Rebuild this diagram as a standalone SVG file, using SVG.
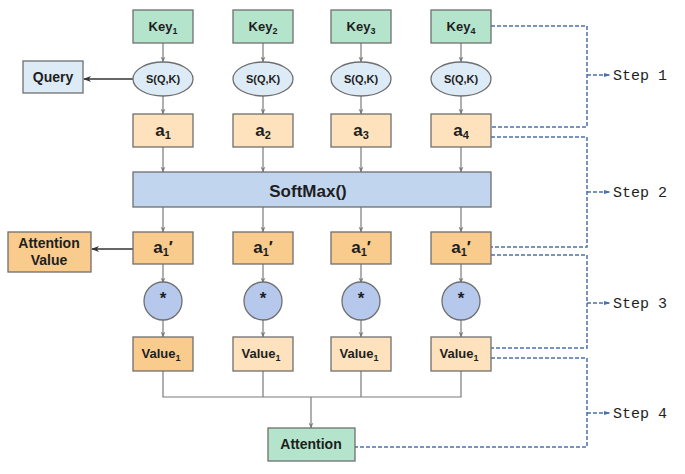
<svg xmlns="http://www.w3.org/2000/svg" width="685" height="474" viewBox="0 0 685 474">
<defs>
<marker id="ag" viewBox="0 0 10 10" refX="9" refY="5" markerWidth="6" markerHeight="6" orient="auto" markerUnits="userSpaceOnUse"><path d="M0,1 L10,5 L0,9 L3,5 Z" fill="#7a7a7a"/></marker>
<marker id="ak" viewBox="0 0 10 10" refX="9" refY="5" markerWidth="8" markerHeight="8" orient="auto" markerUnits="userSpaceOnUse"><path d="M0,1 L10,5 L0,9 L3,5 Z" fill="#333"/></marker>
<marker id="ab" viewBox="0 0 10 10" refX="9" refY="5" markerWidth="7" markerHeight="7" orient="auto" markerUnits="userSpaceOnUse"><path d="M0,2 L10,5 L0,8 Z" fill="#4a72aa"/></marker>
</defs>
<style>
.box{stroke:#6f6f6f;stroke-width:1.3}
.key{fill:#b5e4cd}
.qry{fill:#dcebf6}
.a{fill:#fde2bd}
.ap{fill:#f9cb8d}
.sm{fill:#c2d5ef}
.cir{fill:#b6c9ec}
.t{font-family:"Liberation Sans",Arial,sans-serif;font-weight:bold;fill:#1e1e1e;text-anchor:middle}
.c{stroke:#7a7a7a;stroke-width:1.2;fill:none}
.ck{stroke:#333;stroke-width:1.6;fill:none}
.d{stroke:#4a72aa;stroke-width:1.5;fill:none;stroke-dasharray:4,2}
.st{font-family:"Liberation Mono","DejaVu Sans Mono",monospace;font-size:15px;fill:#1e1e1e}
</style>
<rect width="685" height="474" fill="#fff"/>

<g id="connectors">
<line class="c" x1="163" y1="43" x2="163" y2="62" marker-end="url(#ag)"/>
<line class="c" x1="263" y1="43" x2="263" y2="62" marker-end="url(#ag)"/>
<line class="c" x1="361" y1="43" x2="361" y2="62" marker-end="url(#ag)"/>
<line class="c" x1="461" y1="43" x2="461" y2="62" marker-end="url(#ag)"/>
<line class="c" x1="163" y1="96" x2="163" y2="114" marker-end="url(#ag)"/>
<line class="c" x1="263" y1="96" x2="263" y2="114" marker-end="url(#ag)"/>
<line class="c" x1="361" y1="96" x2="361" y2="114" marker-end="url(#ag)"/>
<line class="c" x1="461" y1="96" x2="461" y2="114" marker-end="url(#ag)"/>
<line class="c" x1="163" y1="147" x2="163" y2="172" marker-end="url(#ag)"/>
<line class="c" x1="263" y1="147" x2="263" y2="172" marker-end="url(#ag)"/>
<line class="c" x1="361" y1="147" x2="361" y2="172" marker-end="url(#ag)"/>
<line class="c" x1="461" y1="147" x2="461" y2="172" marker-end="url(#ag)"/>
<line class="c" x1="163" y1="207" x2="163" y2="232" marker-end="url(#ag)"/>
<line class="c" x1="263" y1="207" x2="263" y2="232" marker-end="url(#ag)"/>
<line class="c" x1="361" y1="207" x2="361" y2="232" marker-end="url(#ag)"/>
<line class="c" x1="461" y1="207" x2="461" y2="232" marker-end="url(#ag)"/>
<line class="c" x1="163" y1="264" x2="163" y2="283" marker-end="url(#ag)"/>
<line class="c" x1="263" y1="264" x2="263" y2="283" marker-end="url(#ag)"/>
<line class="c" x1="361" y1="264" x2="361" y2="283" marker-end="url(#ag)"/>
<line class="c" x1="461" y1="264" x2="461" y2="283" marker-end="url(#ag)"/>
<line class="c" x1="163" y1="320" x2="163" y2="337" marker-end="url(#ag)"/>
<line class="c" x1="263" y1="320" x2="263" y2="337" marker-end="url(#ag)"/>
<line class="c" x1="361" y1="320" x2="361" y2="337" marker-end="url(#ag)"/>
<line class="c" x1="461" y1="320" x2="461" y2="337" marker-end="url(#ag)"/>
<path class="c" d="M163,371 V397 H461 V371 M263,371 V397 M361,371 V397"/>
<line class="c" x1="311" y1="397" x2="311" y2="428" marker-end="url(#ag)"/>
<line class="ck" x1="133" y1="79" x2="84" y2="79" marker-end="url(#ak)"/>
<line class="ck" x1="133" y1="249" x2="92" y2="249" marker-end="url(#ak)"/>
<path class="d" d="M491,26 H587 V127 H491"/>
<path class="d" d="M491,137 H587 V247 H491"/>
<path class="d" d="M491,255 H587 V348 H491"/>
<path class="d" d="M491,358 H587 V447 H355"/>
<line class="d" x1="587" y1="75" x2="610" y2="75" marker-end="url(#ab)"/>
<line class="d" x1="587" y1="192" x2="610" y2="192" marker-end="url(#ab)"/>
<line class="d" x1="587" y1="303" x2="610" y2="303" marker-end="url(#ab)"/>
<line class="d" x1="587" y1="413" x2="610" y2="413" marker-end="url(#ab)"/>
</g>

<g id="key1"><rect class="box key" x="133" y="10" width="60" height="33"/><text class="t" x="163" y="31" font-size="13">Key<tspan font-size="9" dy="3">1</tspan></text></g>
<g id="key2"><rect class="box key" x="233" y="10" width="60" height="33"/><text class="t" x="263" y="31" font-size="13">Key<tspan font-size="9" dy="3">2</tspan></text></g>
<g id="key3"><rect class="box key" x="331" y="10" width="60" height="33"/><text class="t" x="361" y="31" font-size="13">Key<tspan font-size="9" dy="3">3</tspan></text></g>
<g id="key4"><rect class="box key" x="431" y="10" width="60" height="33"/><text class="t" x="461" y="31" font-size="13">Key<tspan font-size="9" dy="3">4</tspan></text></g>

<g id="query"><rect class="box qry" x="23" y="61" width="60" height="32"/><text class="t" x="53" y="82" font-size="14">Query</text></g>

<g id="s1"><ellipse class="box qry" cx="163" cy="79" rx="30" ry="17"/><text class="t" x="163" y="83" font-size="11">S(Q,K)</text></g>
<g id="s2"><ellipse class="box qry" cx="263" cy="79" rx="30" ry="17"/><text class="t" x="263" y="83" font-size="11">S(Q,K)</text></g>
<g id="s3"><ellipse class="box qry" cx="361" cy="79" rx="30" ry="17"/><text class="t" x="361" y="83" font-size="11">S(Q,K)</text></g>
<g id="s4"><ellipse class="box qry" cx="461" cy="79" rx="30" ry="17"/><text class="t" x="461" y="83" font-size="11">S(Q,K)</text></g>

<g id="a1"><rect class="box a" x="133" y="114" width="60" height="33"/><text class="t" x="163" y="136" font-size="17">a<tspan font-size="11" dy="3">1</tspan></text></g>
<g id="a2"><rect class="box a" x="233" y="114" width="60" height="33"/><text class="t" x="263" y="136" font-size="17">a<tspan font-size="11" dy="3">2</tspan></text></g>
<g id="a3"><rect class="box a" x="331" y="114" width="60" height="33"/><text class="t" x="361" y="136" font-size="17">a<tspan font-size="11" dy="3">3</tspan></text></g>
<g id="a4"><rect class="box a" x="431" y="114" width="60" height="33"/><text class="t" x="461" y="136" font-size="17">a<tspan font-size="11" dy="3">4</tspan></text></g>

<g id="softmax"><rect class="box sm" x="133" y="172" width="358" height="35"/><text class="t" x="308" y="197" font-size="17">SoftMax()</text></g>

<g id="attval"><rect class="box ap" x="8" y="232" width="83" height="40"/><text class="t" x="49" y="248" font-size="14">Attention</text><text class="t" x="49" y="265" font-size="14">Value</text></g>

<g id="ap1"><rect class="box ap" x="133" y="232" width="60" height="32"/><text class="t" x="163" y="253" font-size="17">a<tspan font-size="11" dy="3">1</tspan><tspan dy="-3">′</tspan></text></g>
<g id="ap2"><rect class="box ap" x="233" y="232" width="60" height="32"/><text class="t" x="263" y="253" font-size="17">a<tspan font-size="11" dy="3">1</tspan><tspan dy="-3">′</tspan></text></g>
<g id="ap3"><rect class="box ap" x="331" y="232" width="60" height="32"/><text class="t" x="361" y="253" font-size="17">a<tspan font-size="11" dy="3">1</tspan><tspan dy="-3">′</tspan></text></g>
<g id="ap4"><rect class="box ap" x="431" y="232" width="60" height="32"/><text class="t" x="461" y="253" font-size="17">a<tspan font-size="11" dy="3">1</tspan><tspan dy="-3">′</tspan></text></g>

<g id="m1"><circle class="box cir" cx="163" cy="301" r="19"/><text class="t" x="163" y="304" font-size="17">*</text></g>
<g id="m2"><circle class="box cir" cx="263" cy="301" r="19"/><text class="t" x="263" y="304" font-size="17">*</text></g>
<g id="m3"><circle class="box cir" cx="361" cy="301" r="19"/><text class="t" x="361" y="304" font-size="17">*</text></g>
<g id="m4"><circle class="box cir" cx="461" cy="301" r="19"/><text class="t" x="461" y="304" font-size="17">*</text></g>

<g id="v1"><rect class="box ap" x="133" y="337" width="60" height="34"/><text class="t" x="161" y="358" font-size="13">Value<tspan font-size="9" dy="3">1</tspan></text></g>
<g id="v2"><rect class="box a" x="233" y="337" width="60" height="34"/><text class="t" x="261" y="358" font-size="13">Value<tspan font-size="9" dy="3">1</tspan></text></g>
<g id="v3"><rect class="box a" x="331" y="337" width="60" height="34"/><text class="t" x="359" y="358" font-size="13">Value<tspan font-size="9" dy="3">1</tspan></text></g>
<g id="v4"><rect class="box a" x="431" y="337" width="60" height="34"/><text class="t" x="459" y="358" font-size="13">Value<tspan font-size="9" dy="3">1</tspan></text></g>

<g id="attention"><rect class="box key" x="268" y="428" width="87" height="33"/><text class="t" x="311" y="449" font-size="14">Attention</text></g>

<g id="steps">
<text class="st" x="613" y="80">Step 1</text>
<text class="st" x="613" y="197">Step 2</text>
<text class="st" x="613" y="308">Step 3</text>
<text class="st" x="613" y="418">Step 4</text>
</g>
</svg>
